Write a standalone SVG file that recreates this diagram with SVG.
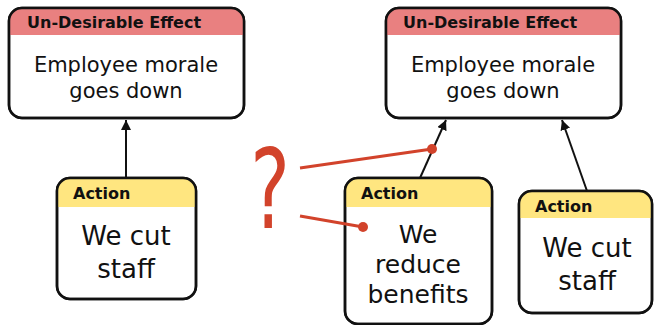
<svg xmlns="http://www.w3.org/2000/svg" width="654" height="325" viewBox="0 0 654 325">
<style>
.box{fill:#fff;stroke:#111;stroke-width:2.5}
.hdr{font-family:"DejaVu Sans",sans-serif;font-weight:bold;font-size:16px;fill:#111}
.body{font-family:"DejaVu Sans",sans-serif;fill:#111;text-anchor:middle}
.conn{stroke:#111;stroke-width:2;fill:none}
.red{stroke:#d2432b;stroke-width:3;fill:none}
</style>
<defs>
<marker id="ah" viewBox="0 0 10 10" refX="10" refY="5" markerWidth="5" markerHeight="5" orient="auto" markerUnits="strokeWidth">
<path d="M0,0 L10,5 L0,10 z" fill="#111"/>
</marker>
<clipPath id="c1"><rect x="9" y="8" width="235" height="110" rx="13"/></clipPath>
<clipPath id="c2"><rect x="386" y="8" width="235" height="110" rx="13"/></clipPath>
<clipPath id="c3"><rect x="57" y="178" width="139" height="121" rx="13"/></clipPath>
<clipPath id="c4"><rect x="345" y="178" width="147" height="146" rx="13"/></clipPath>
<clipPath id="c5"><rect x="519" y="191" width="133" height="122" rx="13"/></clipPath>
</defs>
<g id="question">
<text x="270" y="228" font-family="DejaVu Sans, sans-serif" font-size="110" fill="#d2432b" text-anchor="middle" transform="translate(270,0) scale(0.68,1) translate(-270,0)">?</text>
</g>
<g id="ude1">
<rect class="box" x="9" y="8" width="235" height="110" rx="13"/>
<rect x="9" y="8" width="235" height="27" fill="#e98080" clip-path="url(#c1)"/>
<rect x="9" y="8" width="235" height="110" rx="13" fill="none" stroke="#111" stroke-width="2.5"/>
<text class="hdr" x="27" y="28">Un-Desirable Effect</text>
<text class="body" x="126" y="72" font-size="21">Employee morale</text>
<text class="body" x="126" y="98" font-size="21">goes down</text>
</g>
<g id="ude2">
<rect class="box" x="386" y="8" width="235" height="110" rx="13"/>
<rect x="386" y="8" width="235" height="27" fill="#e98080" clip-path="url(#c2)"/>
<rect x="386" y="8" width="235" height="110" rx="13" fill="none" stroke="#111" stroke-width="2.5"/>
<text class="hdr" x="403" y="28">Un-Desirable Effect</text>
<text class="body" x="503" y="72" font-size="21">Employee morale</text>
<text class="body" x="503" y="98" font-size="21">goes down</text>
</g>
<g id="action1">
<rect class="box" x="57" y="178" width="139" height="121" rx="13"/>
<rect x="57" y="178" width="139" height="29" fill="#ffe680" clip-path="url(#c3)"/>
<rect x="57" y="178" width="139" height="121" rx="13" fill="none" stroke="#111" stroke-width="2.5"/>
<text class="hdr" x="73" y="199">Action</text>
<text class="body" x="126" y="245" font-size="26">We cut</text>
<text class="body" x="126" y="278" font-size="26">staff</text>
</g>
<g id="action2">
<rect class="box" x="345" y="178" width="147" height="146" rx="13"/>
<rect x="345" y="178" width="147" height="29" fill="#ffe680" clip-path="url(#c4)"/>
<rect x="345" y="178" width="147" height="146" rx="13" fill="none" stroke="#111" stroke-width="2.5"/>
<text class="hdr" x="361" y="199">Action</text>
<text class="body" x="418" y="243" font-size="25">We</text>
<text class="body" x="418" y="273" font-size="25">reduce</text>
<text class="body" x="418" y="303" font-size="25">benefits</text>
</g>
<g id="action3">
<rect class="box" x="519" y="191" width="133" height="122" rx="13"/>
<rect x="519" y="191" width="133" height="27" fill="#ffe680" clip-path="url(#c5)"/>
<rect x="519" y="191" width="133" height="122" rx="13" fill="none" stroke="#111" stroke-width="2.5"/>
<text class="hdr" x="535" y="212">Action</text>
<text class="body" x="587" y="257" font-size="26">We cut</text>
<text class="body" x="587" y="290" font-size="26">staff</text>
</g>
<g id="connectors">
<line class="conn" x1="126" y1="178" x2="126" y2="120" marker-end="url(#ah)"/>
<line class="conn" x1="420" y1="178" x2="446" y2="120" marker-end="url(#ah)"/>
<line class="conn" x1="587" y1="191" x2="562" y2="120" marker-end="url(#ah)"/>
<line class="red" x1="300" y1="168" x2="432" y2="149"/>
<circle cx="432" cy="149" r="5" fill="#d2432b"/>
<line class="red" x1="300" y1="216" x2="363" y2="227"/>
<circle cx="363" cy="227" r="5" fill="#d2432b"/>
</g>
</svg>
